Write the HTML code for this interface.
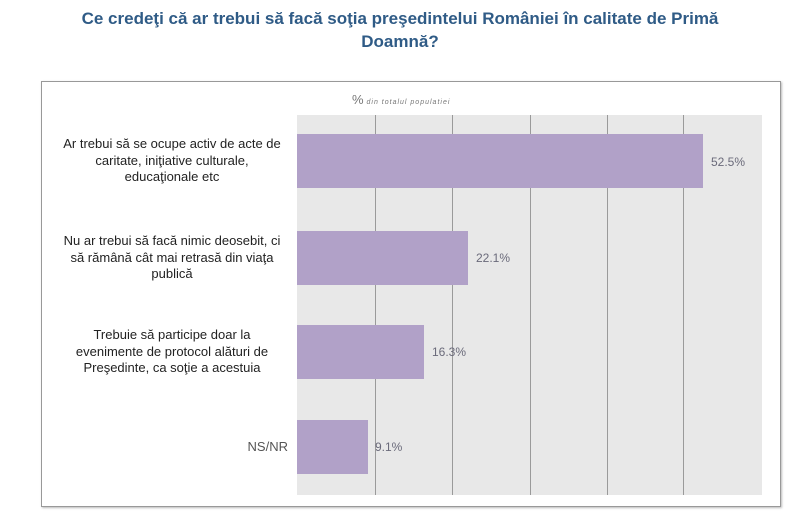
<!DOCTYPE html>
<html><head><meta charset="utf-8"><style>
body{margin:0;width:800px;height:522px;background:#fff;position:relative;overflow:hidden;font-family:"Liberation Sans",sans-serif}
.t{position:absolute;left:0;width:800px;text-align:center;color:#2f5b86;font-weight:bold;font-size:17px;line-height:23px;top:7px}
.box{position:absolute;left:41px;top:81px;width:738px;height:424px;border:1px solid #999;box-shadow:1px 1px 2px #bbb}
.plot{position:absolute;left:297px;top:115px;width:465px;height:380px;background:#e8e8e8}
.g{position:absolute;top:115px;height:380px;width:1px;background:#9a9a9a}
.bar{position:absolute;left:297px;height:54px;background:#b1a1c8}
.v{position:absolute;font-size:12px;color:#6a6a7a}
.l{position:absolute;left:42px;width:260px;text-align:center;font-size:13px;line-height:16.5px;color:#222;white-space:nowrap}
.sub{position:absolute;left:352px;top:92px;font-size:7px;letter-spacing:1px;font-style:italic;color:#777}
</style></head><body>
<div class="t">Ce credeţi că ar trebui să facă soţia preşedintelui României în calitate de Primă<br>Doamnă?</div>
<div class="box"></div>
<div class="sub"><span style="font-size:13px;font-style:normal;letter-spacing:0">%</span> din totalul populatiei</div>
<div class="plot"></div>
<div class="g" style="left:375px"></div><div class="g" style="left:452px"></div><div class="g" style="left:530px"></div><div class="g" style="left:607px"></div><div class="g" style="left:683px"></div>
<div class="bar" style="top:134px;width:406px"></div>
<div class="bar" style="top:231px;width:171px"></div>
<div class="bar" style="top:325px;width:127px"></div>
<div class="bar" style="top:420px;width:71px"></div>
<div class="v" style="left:711px;top:155px">52.5%</div>
<div class="v" style="left:476px;top:251px">22.1%</div>
<div class="v" style="left:432px;top:345px">16.3%</div>
<div class="v" style="left:375px;top:440px">9.1%</div>
<div class="l" style="top:136px">Ar trebui să se ocupe activ de acte de<br>caritate, iniţiative culturale,<br>educaţionale etc</div>
<div class="l" style="top:233px">Nu ar trebui să facă nimic deosebit, ci<br>să rămână cât mai retrasă din viaţa<br>publică</div>
<div class="l" style="top:327px">Trebuie să participe doar la<br>evenimente de protocol alături de<br>Preşedinte, ca soţie a acestuia</div>
<div class="l" style="top:439px;left:50px;width:238px;text-align:right;color:#555">NS/NR</div>
</body></html>
